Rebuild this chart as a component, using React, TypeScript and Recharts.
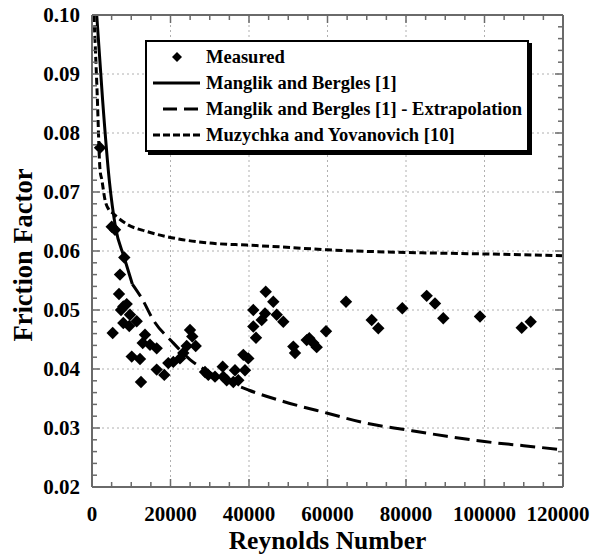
import React from 'react';
import { ComposedChart, XAxis, YAxis, CartesianGrid, Line, Scatter, Legend, Label } from 'recharts';

const FONT = '"Liberation Serif", "Times New Roman", serif';
const FRAME = '#6a6a6a';

// Measured data (Reynolds number, friction factor)
const measuredRe = [
  2040, 5020, 5860, 8230, 7130, 6880, 8840, 7980, 7390, 9680, 7980, 9500, 11390, 5270, 13500, 12920,
  14780, 16480, 10120, 12230, 16480, 18420, 12480, 19440, 20710, 22420, 23260, 24130, 24970, 25550,
  26420, 28790, 29630, 31340, 33300, 33450, 34320, 36000, 36430, 37270, 38980, 38550, 39820, 41100,
  41780, 41100, 43240, 44260, 44080, 46190, 47060, 48740, 51290, 51720, 54700, 55360, 56380, 57250,
  59620, 64710, 71260, 72940, 79060, 85270, 87390, 89500, 98850, 109480, 111770,
];
const measuredF = [
  0.0775, 0.0641, 0.0636, 0.0589, 0.0560, 0.0527, 0.0510, 0.0506, 0.0500, 0.0492, 0.0478, 0.0473, 0.0481, 0.0461, 0.0458, 0.0444,
  0.0441, 0.0435, 0.0421, 0.0417, 0.0399, 0.0390, 0.0378, 0.0410, 0.0412, 0.0418, 0.0427, 0.0439, 0.0466, 0.0455,
  0.0439, 0.0395, 0.0390, 0.0387, 0.0404, 0.0387, 0.0381, 0.0378, 0.0398, 0.0381, 0.0398, 0.0424, 0.0418, 0.0500,
  0.0453, 0.0472, 0.0483, 0.0531, 0.0494, 0.0514, 0.0492, 0.0480, 0.0438, 0.0427, 0.0449, 0.0452, 0.0444, 0.0437,
  0.0464, 0.0514, 0.0483, 0.0469, 0.0503, 0.0524, 0.0511, 0.0486, 0.0489, 0.0470, 0.0480,
];

// Manglik and Bergles [1]
const manglikRe = [1200, 2700, 4400, 6000, 8200, 10270];
const manglikF = [0.1000, 0.0856, 0.0720, 0.0640, 0.0589, 0.0544];

// Manglik and Bergles [1] - Extrapolation
const extrapRe = [10270, 12660, 15800, 20300, 24970, 30000, 40000, 48750, 60000, 70000, 80000, 90400, 100000, 110000, 120000];
const extrapF = [0.0544, 0.0520, 0.0481, 0.0447, 0.0416, 0.0394, 0.0364, 0.0345, 0.0325, 0.0308, 0.0297, 0.0286, 0.0277, 0.0270, 0.0263];

// Muzychka and Yovanovich [10]
const muzyRe = [500, 1300, 2050, 2500, 3300, 4300, 5300, 6300, 9000, 14000, 22400, 30800, 39400, 47900, 60000, 84000, 100000, 120000];
const muzyF = [0.1000, 0.0870, 0.0737, 0.0721, 0.0687, 0.0670, 0.0664, 0.0658, 0.0645, 0.0633, 0.0620, 0.0613, 0.0610, 0.0607, 0.0602, 0.0597, 0.0595, 0.0592];

const xMajor = [0, 20000, 40000, 60000, 80000, 100000, 120000];
const xMinor = [
  0, 5000, 10000, 15000, 20000, 25000, 30000, 35000, 40000, 45000, 50000, 55000, 60000,
  65000, 70000, 75000, 80000, 85000, 90000, 95000, 100000, 105000, 110000, 115000, 120000,
];
const yMajor = [0.02, 0.03, 0.04, 0.05, 0.06, 0.07, 0.08, 0.09, 0.10];
const yMinor = [
  0.02, 0.022, 0.024, 0.026, 0.028, 0.03, 0.032, 0.034, 0.036, 0.038, 0.04, 0.042, 0.044, 0.046, 0.048,
  0.05, 0.052, 0.054, 0.056, 0.058, 0.06, 0.062, 0.064, 0.066, 0.068, 0.07, 0.072, 0.074, 0.076, 0.078,
  0.08, 0.082, 0.084, 0.086, 0.088, 0.09, 0.092, 0.094, 0.096, 0.098, 0.10,
];
const yLabels = ['0.02', '0.03', '0.04', '0.05', '0.06', '0.07', '0.08', '0.09', '0.10'];

const legendLabels = [
  'Measured',
  'Manglik and Bergles [1]',
  'Manglik and Bergles [1] - Extrapolation',
  'Muzychka and Yovanovich [10]',
];

const zip = (xs: number[], ys: number[]) => xs.map((re, i) => ({ re, f: ys[i] }));
const measured = zip(measuredRe, measuredF);
const manglik = zip(manglikRe, manglikF);
const extrap = zip(extrapRe, extrapF);
const muzy = zip(muzyRe, muzyF);

const isXMajor = (v: number) => xMajor.some((m) => Math.abs(m - v) < 1e-6);
const yMajorIndex = (v: number) => yMajor.findIndex((m) => Math.abs(m - v) < 1e-9);

const XTick = (props: any) => {
  const { x, y, payload, side } = props;
  const v = payload.value;
  const major = isXMajor(v);
  const len = major ? 8 : 5;
  const dir = side === 'bottom' ? -1 : 1;
  const isLast = v === xMajor[xMajor.length - 1];
  return (
    <g>
      <line x1={x} y1={y} x2={x} y2={y + dir * len} stroke={FRAME} strokeWidth={1.5} />
      {side === 'bottom' && major && (
        <text
          x={x}
          y={y + 34}
          dx={isLast ? -5 : 0}
          textAnchor="middle"
          fontFamily={FONT}
          fontWeight="bold"
          fontSize={21}
          fill="#000"
        >
          {String(v)}
        </text>
      )}
    </g>
  );
};

const YTick = (props: any) => {
  const { x, y, payload, side } = props;
  const idx = yMajorIndex(payload.value);
  const major = idx >= 0;
  const len = major ? 8 : 5;
  const dir = side === 'left' ? 1 : -1;
  return (
    <g>
      <line x1={x} y1={y} x2={x + dir * len} y2={y} stroke={FRAME} strokeWidth={1.5} />
      {side === 'left' && major && (
        <text x={x - 12} y={y} dy="0.34em" textAnchor="end" fontFamily={FONT} fontWeight="bold" fontSize={21} fill="#000">
          {yLabels[idx]}
        </text>
      )}
    </g>
  );
};

const Diamond = (props: any) => {
  const { cx, cy } = props;
  const r = 6.2;
  return <polygon points={`${cx},${cy - r} ${cx + r},${cy} ${cx},${cy + r} ${cx - r},${cy}`} fill="#000" />;
};

const LegendIcon = ({ i }: { i: number }) => {
  if (i === 0) return <polygon points="30,8 35,13 30,18 25,13" fill="#000" />;
  if (i === 1) return <line x1={6} y1={13} x2={53} y2={13} stroke="#000" strokeWidth={3} />;
  if (i === 2) return <line x1={16} y1={13} x2={51} y2={13} stroke="#000" strokeWidth={3} strokeDasharray="14 7" />;
  return <line x1={6} y1={13} x2={53} y2={13} stroke="#000" strokeWidth={3} strokeDasharray="7 3" />;
};

const LegendBox = () => (
  <div
    style={{
      border: '2px solid #000',
      boxShadow: '3px 3px 0 #000',
      background: '#fff',
      width: 380,
      padding: '2px 0',
      fontFamily: FONT,
      fontWeight: 'bold',
      fontSize: 18.5,
      color: '#000',
      lineHeight: '26px',
    }}
  >
    {legendLabels.map((label, i) => (
      <div key={label} style={{ height: 26, display: 'flex', alignItems: 'center' }}>
        <svg width={59} height={26} style={{ flex: '0 0 59px' }}>
          <LegendIcon i={i} />
        </svg>
        <span style={{ whiteSpace: 'nowrap' }}>{label}</span>
      </div>
    ))}
  </div>
);

export default function App() {
  return (
    <div style={{ position: 'absolute', left: 0, top: 0, background: '#fff' }}>
      <ComposedChart width={592} height={554} margin={{ top: 0, right: 0, bottom: 0, left: 0 }}>
        <CartesianGrid
          xAxisId="b"
          yAxisId="l"
          horizontalValues={yMajor.slice(1, -1)}
          verticalValues={xMajor.slice(1, -1)}
          stroke="#b0b0b0"
          strokeDasharray="2 3"
          strokeWidth={1}
        />
        <XAxis
          xAxisId="b"
          orientation="bottom"
          type="number"
          dataKey="re"
          domain={[0, 120000]}
          ticks={xMinor}
          interval={0}
          height={67}
          allowDataOverflow
          tickLine={false}
          tickSize={0}
          tickMargin={0}
          axisLine={{ stroke: FRAME, strokeWidth: 2 }}
          tick={(p: any) => <XTick {...p} side="bottom" />}
        >
          <Label
            content={(p: any) => {
              const vb = p.viewBox;
              return (
                <text x={vb.x + vb.width / 2} y={vb.y + 61.5} textAnchor="middle" fontFamily={FONT} fontWeight="bold" fontSize={25.5} fill="#000">
                  Reynolds Number
                </text>
              );
            }}
          />
        </XAxis>
        <XAxis
          xAxisId="t"
          orientation="top"
          type="number"
          dataKey="re"
          domain={[0, 120000]}
          ticks={xMinor}
          interval={0}
          height={15}
          allowDataOverflow
          tickLine={false}
          tickSize={0}
          tickMargin={0}
          axisLine={{ stroke: FRAME, strokeWidth: 2 }}
          tick={(p: any) => <XTick {...p} side="top" />}
        />
        <YAxis
          yAxisId="l"
          orientation="left"
          type="number"
          dataKey="f"
          domain={[0.02, 0.1]}
          ticks={yMinor}
          interval={0}
          width={92}
          allowDataOverflow
          tickLine={false}
          tickSize={0}
          tickMargin={0}
          axisLine={{ stroke: FRAME, strokeWidth: 2 }}
          tick={(p: any) => <YTick {...p} side="left" />}
        >
          <Label
            content={(p: any) => {
              const vb = p.viewBox;
              const cx = vb.x + 23;
              const cy = vb.y + vb.height / 2 + 4;
              return (
                <text
                  x={cx}
                  y={cy}
                  transform={`rotate(-90, ${cx}, ${cy})`}
                  textAnchor="middle"
                  dominantBaseline="central"
                  fontFamily={FONT}
                  fontWeight="bold"
                  fontSize={26.5}
                  fill="#000"
                >
                  Friction Factor
                </text>
              );
            }}
          />
        </YAxis>
        <YAxis
          yAxisId="r"
          orientation="right"
          type="number"
          dataKey="f"
          domain={[0.02, 0.1]}
          ticks={yMinor}
          interval={0}
          width={29}
          allowDataOverflow
          tickLine={false}
          tickSize={0}
          tickMargin={0}
          axisLine={{ stroke: FRAME, strokeWidth: 2 }}
          tick={(p: any) => <YTick {...p} side="right" />}
        />
        <Line xAxisId="b" yAxisId="l" data={muzy} dataKey="f" type="monotone" stroke="#000" strokeWidth={3} strokeDasharray="7 3.5" dot={false} isAnimationActive={false} />
        <Line xAxisId="b" yAxisId="l" data={extrap} dataKey="f" type="monotone" stroke="#000" strokeWidth={3} strokeDasharray="15 7" dot={false} isAnimationActive={false} />
        <Line xAxisId="b" yAxisId="l" data={manglik} dataKey="f" type="monotone" stroke="#000" strokeWidth={3} dot={false} isAnimationActive={false} />
        <Scatter xAxisId="b" yAxisId="l" data={measured} dataKey="f" shape={(p: any) => <Diamond {...p} />} isAnimationActive={false} />
        <Legend
          layout="horizontal"
          verticalAlign="middle"
          align="center"
          content={() => <LegendBox />}
          wrapperStyle={{ left: 145, top: 40, width: 'auto', height: 'auto' }}
        />
      </ComposedChart>
    </div>
  );
}
